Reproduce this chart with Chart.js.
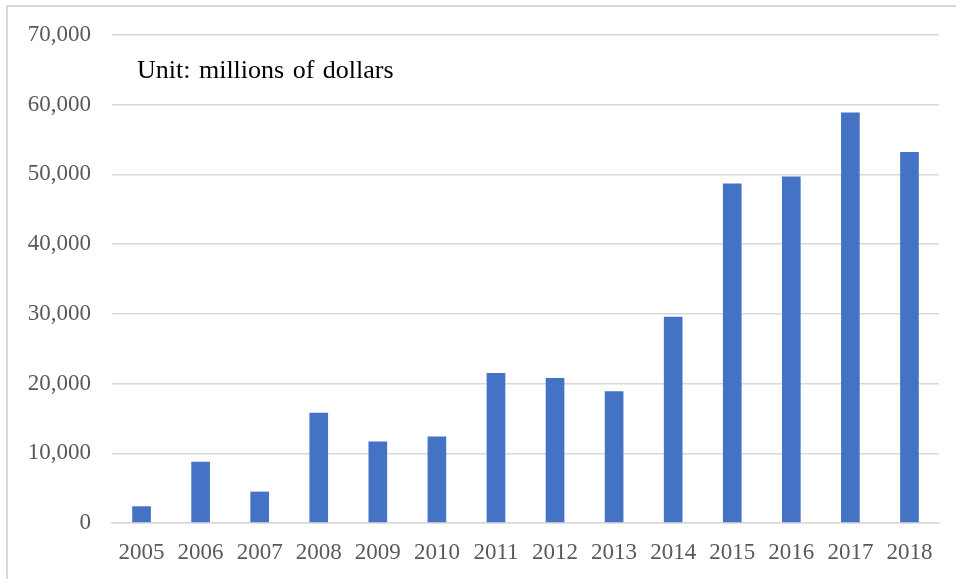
<!DOCTYPE html>
<html>
<head>
<meta charset="utf-8">
<script src="https://cdn.jsdelivr.net/npm/chart.js"></script>
<style>
  html, body { margin: 0; padding: 0; background: #ffffff; }
  #wrap { position: relative; width: 956px; height: 579px; overflow: hidden; }
  #frame { position: absolute; left: 6px; top: 5px; right: -4px; bottom: -4px;
           border-left: 2px solid #d9d9d9; border-top: 2px solid #d9d9d9; pointer-events: none; }
  canvas { position: absolute; left: 0; top: 0; }
</style>
</head>
<body>
<div id="wrap">
  <canvas id="c" width="956" height="579"></canvas>
  <div id="frame"></div>
</div>
<script>
const years = ['2005','2006','2007','2008','2009','2010','2011','2012','2013','2014','2015','2016','2017','2018'];
const values = [2400, 8800, 4500, 15800, 11700, 12400, 21500, 20800, 18900, 29600, 48700, 49700, 58900, 53200];
const yTicks = [0, 10000, 20000, 30000, 40000, 50000, 60000, 70000];
const unitNote = 'Unit: millions of dollars';

const noteLabel = {
  id: 'noteLabel',
  afterDraw(chart) {
    const ctx = chart.ctx;
    const ys = chart.scales.y;
    ctx.save();
    ctx.font = '26px "Liberation Serif", "Times New Roman", serif';
    if ('wordSpacing' in ctx) ctx.wordSpacing = '2px';
    ctx.fillStyle = '#000000';
    ctx.textAlign = 'left';
    ctx.textBaseline = 'alphabetic';
    ctx.fillText(unitNote, chart.chartArea.left + 25, ys.getPixelForValue(yTicks[yTicks.length - 1]) + 42.6);
    ctx.restore();
  }
};

new Chart(document.getElementById('c'), {
  type: 'bar',
  data: {
    labels: years,
    datasets: [{
      data: values,
      backgroundColor: '#4472C4',
      borderWidth: 0,
      categoryPercentage: 1.0,
      barPercentage: 0.316
    }]
  },
  options: {
    responsive: false,
    devicePixelRatio: 1,
    animation: false,
    layout: { padding: { left: 0, right: 17, top: 35, bottom: 0 } },
    plugins: { legend: { display: false }, tooltip: { enabled: false }, title: { display: false } },
    scales: {
      x: {
        grid: { display: false, drawTicks: false },
        border: { display: true, color: '#d9d9d9', width: 1.5 },
        ticks: {
          color: '#595959',
          font: { family: '"Liberation Serif", "Times New Roman", serif', size: 23 },
          padding: 16,
          maxRotation: 0,
          autoSkip: false
        },
        afterFit(scale) { scale.height = 56; }
      },
      y: {
        min: yTicks[0],
        max: yTicks[yTicks.length - 1],
        afterBuildTicks(scale) { scale.ticks = yTicks.map(v => ({ value: v })); },
        grid: { color: '#d9d9d9', lineWidth: 1.5, drawTicks: false },
        border: { display: false },
        ticks: {
          color: '#595959',
          font: { family: '"Liberation Serif", "Times New Roman", serif', size: 23 },
          padding: 21,
          callback: (v) => v.toLocaleString('en-US')
        },
        afterFit(scale) { scale.width = 112; }
      }
    }
  },
  plugins: [noteLabel]
});
</script>
</body>
</html>
